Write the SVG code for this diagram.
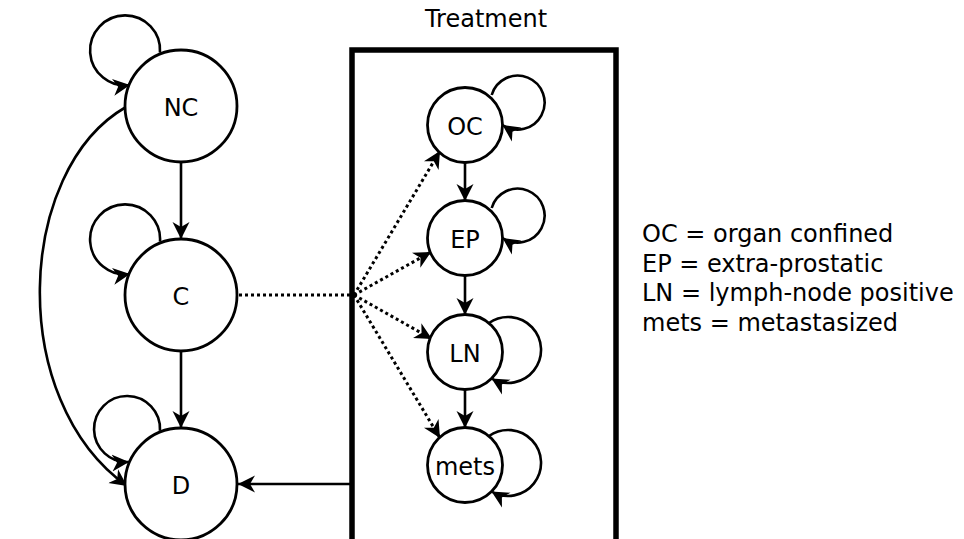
<svg xmlns="http://www.w3.org/2000/svg" width="964" height="539" viewBox="0 0 964 539">
<style>
text{font-family:"DejaVu Sans","Liberation Sans",sans-serif;font-size:24px;fill:#000}
.node circle{fill:#fff;stroke:#000;stroke-width:2.8}
.lbl{text-anchor:middle;dominant-baseline:central}
.edge{fill:none;stroke:#000;stroke-width:2.6}
.dot{fill:none;stroke:#000;stroke-width:3;stroke-dasharray:3 3}
</style>
<defs>
<marker id="ah" markerUnits="userSpaceOnUse" markerWidth="19" markerHeight="19" refX="17" refY="8.5" orient="auto" viewBox="0 0 19 17">
<path d="M0,0 L17,8.5 L0,17 L5,8.5 z" fill="#000"/>
</marker>
</defs>
<rect x="352" y="50" width="264" height="520" fill="none" stroke="#000" stroke-width="5.5"/>
<text x="486" y="27" text-anchor="middle">Treatment</text>
<g id="connectors">
<path class="edge" d="M181,162 L181,239" marker-end="url(#ah)"/>
<path class="edge" d="M181,351 L181,428" marker-end="url(#ah)"/>
<path class="edge" d="M126,107 C16,170 6,400 127,486" marker-end="url(#ah)"/>
<path class="edge" d="M352,484 L238,484" marker-end="url(#ah)"/>
<path class="edge" d="M160,52.7 A35,35 0 1 0 130,85" marker-end="url(#ah)"/>
<path class="edge" d="M160,241.7 A35,35 0 1 0 130,274" marker-end="url(#ah)"/>
<path class="edge" d="M160,430.7 A33,33 0 1 0 129,462" marker-end="url(#ah)"/>
<path class="edge" d="M465,163 L465,201" marker-end="url(#ah)"/>
<path class="edge" d="M465,276 L465,315" marker-end="url(#ah)"/>
<path class="edge" d="M465,390 L465,428" marker-end="url(#ah)"/>
<path class="edge" d="M491.7,95 A27,27 0 1 1 502.5,125" marker-end="url(#ah)"/>
<path class="edge" d="M491.7,208 A27,27 0 1 1 502.5,238" marker-end="url(#ah)"/>
<path class="edge" d="M489,323 A33,33 0 1 1 491.5,378.5" marker-end="url(#ah)"/>
<path class="edge" d="M489,436 A33,33 0 1 1 491.5,491.5" marker-end="url(#ah)"/>
<path class="dot" d="M239,295 L354,295"/>
<path class="dot" d="M354,295 L440,151" marker-end="url(#ah)"/>
<path class="dot" d="M354,295 L431,252" marker-end="url(#ah)"/>
<path class="dot" d="M354,295 L432,339" marker-end="url(#ah)"/>
<path class="dot" d="M354,295 L440,438" marker-end="url(#ah)"/>
</g>
<g id="NC" class="node"><circle cx="181" cy="106" r="56"/><text class="lbl" x="181" y="108">NC</text></g>
<g id="C" class="node"><circle cx="181" cy="295" r="56"/><text class="lbl" x="181" y="297">C</text></g>
<g id="D" class="node"><circle cx="181" cy="484" r="56"/><text class="lbl" x="181" y="486">D</text></g>
<g id="OC" class="node"><circle cx="465" cy="125" r="37.5"/><text class="lbl" x="465" y="127">OC</text></g>
<g id="EP" class="node"><circle cx="465" cy="238" r="37.5"/><text class="lbl" x="465" y="240">EP</text></g>
<g id="LN" class="node"><circle cx="465" cy="352" r="37.5"/><text class="lbl" x="465" y="354">LN</text></g>
<g id="mets" class="node"><circle cx="465" cy="465" r="37.5"/><text class="lbl" x="465" y="467">mets</text></g>
<g id="legend">
<text x="642" y="242">OC = organ confined</text>
<text x="642" y="271.5">EP = extra-prostatic</text>
<text x="642" y="301">LN = lymph-node positive</text>
<text x="642" y="330.5">mets = metastasized</text>
</g>
</svg>
